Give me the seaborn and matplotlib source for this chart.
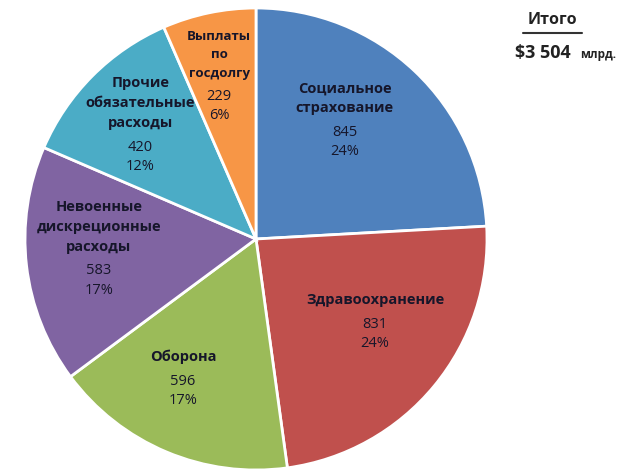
import matplotlib.pyplot as plt
import seaborn as sns

# Data
categories = ['Социальное\nстрахование', 'Здравоохранение', 'Оборона',
              'Невоенные\nдискреционные\nрасходы', 'Прочие\nобязательные\nрасходы',
              'Выплаты\nпо\nгосдолгу']
values = [845, 831, 596, 583, 420, 229]
percents = ['24%', '24%', '17%', '17%', '12%', '6%']
colors = ['#4F81BD', '#C0504D', '#9BBB59', '#8064A2', '#4BACC6', '#F79646']
total_amount = '$3 504'
total_unit = 'млрд.'

# label anchors inside the pie (data coords, radius = 1)
label_pos = [(0.385, 0.515), (0.515, -0.316), (-0.316, -0.563),
             (-0.68, -0.085), (-0.50, 0.45), (-0.16, 0.67)]

sns.set_theme(style='white')
plt.rcParams['font.family'] = ['Open Sans', 'DejaVu Sans']

fig = plt.figure(figsize=(6.31, 4.74), dpi=100)
ax = fig.add_axes([25 / 631, 4 / 474, 462 / 631, 462 / 474])

wedges, _ = ax.pie(values, colors=colors, startangle=90, counterclock=False,
                   wedgeprops=dict(edgecolor='white', linewidth=2))
ax.set_xlim(-1, 1)
ax.set_ylim(-1, 1)
ax.set_aspect('equal')

text_color = '#16162a'
for (x, y), name, v, p in zip(label_pos, categories, values, percents):
    fs = 9.5 if name.startswith('Выплаты') else 10.5
    ax.text(x, y + 0.02, name, ha='center', va='bottom', fontsize=fs,
            fontweight='bold', color=text_color, linespacing=1.55)
    ax.text(x, y - 0.02, f'{v}\n{p}', ha='center', va='top', fontsize=10.5,
            color=text_color, linespacing=1.4)

fig.text(0.875, 0.958, 'Итого', ha='center', va='center', fontsize=11.5,
         fontweight='bold', color='#222222')
fig.add_artist(plt.Line2D([0.829, 0.922], [0.930, 0.930], color='#333333', lw=1.5,
                          transform=fig.transFigure))
fig.text(0.816, 0.878, total_amount, ha='left', va='baseline', fontsize=13,
         fontweight='bold', color='#222222')
fig.text(0.920, 0.878, total_unit, ha='left', va='baseline', fontsize=8.5,
         fontweight='bold', color='#222222')

fig.savefig('out.png', dpi=100)
